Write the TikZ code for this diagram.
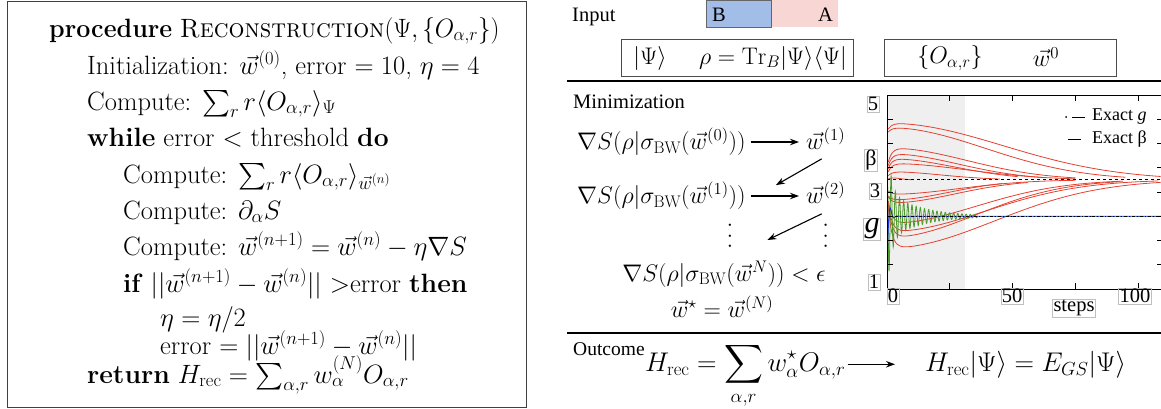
\RequirePackage{fix-cm}
\documentclass[tikz,border=0pt]{standalone}
\usepackage{amsmath,amssymb}
\usepackage{fontspec}
\newfontfamily\tms{Liberation Serif}
\usetikzlibrary{arrows.meta, positioning}

\definecolor{partB}{HTML}{A3BDE9}
\definecolor{partA}{HTML}{F8D6D4}
\definecolor{phase}{HTML}{EFEFEF}
\definecolor{trajred}{HTML}{E5402F}
\definecolor{trajgreen}{HTML}{4C9A2A}
\definecolor{trajblue}{HTML}{1B35D8}

\begin{document}
\begin{tikzpicture}[
  x=1pt, y=1pt,
  alg_line/.style={anchor=base west, inner sep=0pt, font=\fontsize{26.5}{31}\selectfont},
  eq/.style={inner sep=0pt, font=\fontsize{24}{28}\selectfont},
  big_eq/.style={inner sep=0pt, font=\fontsize{27}{32}\selectfont},
  tag/.style={anchor=base west, inner sep=0pt, font=\tms\fontsize{20.5}{24}\selectfont},
  in_box/.style={rectangle, draw=black!70, line width=0.8pt, anchor=north west, minimum width=232pt, minimum height=37pt, inner sep=0pt},
  tick_lbl/.style={draw=black!25, line width=0.5pt, inner sep=1pt, font=\tms\fontsize{20.5}{20}\selectfont},
  legend_lbl/.style={anchor=west, inner sep=0pt, font=\tms\fontsize{18}{20}\selectfont},
  traj/.style={trajred, line width=0.8pt},
  arrow/.style={-{Stealth[length=9pt, width=6.5pt]}, line width=1.1pt},
  rule/.style={line width=1.6pt}
]
\useasboundingbox (0,0) rectangle (1161,-408);

% Algorithm
\draw[line width=0.8pt, black!75] (7,-1) rectangle (526,-407);
\node[alg_line] (proc) at (49,-37) {\scalebox{0.945}[1]{\textbf{procedure} \textsc{Reconstruction}$(\Psi,\{O_{\alpha,r}\})$}};
\node[alg_line] (init) at (87,-74) {Initialization: $\vec{w}^{(0)}$, error $=10$, $\eta=4$};
\node[alg_line] (cexact) at (87,-110) {Compute: $\sum_r r\langle O_{\alpha,r}\rangle_{\Psi}$};
\node[alg_line] (loop) at (87,-146) {\textbf{while} error $<$ threshold \textbf{do}};
\node[alg_line] (cbw) at (123,-183) {Compute: $\sum_r r\langle O_{\alpha,r}\rangle_{\vec{w}^{(n)}}$};
\node[alg_line] (cgrad) at (123,-219) {Compute: $\partial_\alpha S$};
\node[alg_line] (cstep) at (123,-255) {Compute: $\vec{w}^{(n+1)}=\vec{w}^{(n)}-\eta\nabla S$};
\node[alg_line] (test) at (123,-292) {\textbf{if} $||\vec{w}^{(n+1)}-\vec{w}^{(n)}||$ $>$error \textbf{then}};
\node[alg_line] (half) at (160,-326) {$\eta=\eta/2$};
\node[alg_line] (err) at (160,-354) {error $=||\vec{w}^{(n+1)}-\vec{w}^{(n)}||$};
\node[alg_line] (ret) at (87,-383) {\textbf{return} $H_{\mathrm{rec}}=\sum_{\alpha,r}w_\alpha^{(N)}O_{\alpha,r}$};

% Input
\node[tag] (inlbl) at (572,-21) {Input};
\node[rectangle, fill=partA, anchor=north west, minimum width=66pt, minimum height=27pt, inner sep=0pt] (subA) at (772,0) {};
\node[rectangle, draw=black!60, fill=partB, line width=0.6pt, anchor=north east, minimum width=65pt, minimum height=27pt, inner sep=0pt] (subB) at (subA.north west) {};
\node[tag, anchor=base west] (lblB) at (712,-21) {B};
\node[tag, anchor=base east] (lblA) at (833,-21) {A};
\node[in_box] (stbox) at (621,-39) {};
\node[eq] (ket) at (650,-58) {$|\Psi\rangle$};
\node[eq] (rdm) at (773,-58) {$\rho=\mathrm{Tr}_B|\Psi\rangle\langle\Psi|$};
\node[in_box] (opbox) at (884,-39) {};
\node[eq] (ops) at (950,-58) {$\{O_{\alpha,r}\}$};
\node[eq] (wzero) at (1046,-57) {$\vec{w}^{0}$};
\draw[rule] (567,-81) -- (1161,-81);

% Minimization
\node[tag] (minlbl) at (573,-108) {Minimization};
\node[eq, anchor=west] (grad0) at (577,-142) {$\nabla S(\rho|\sigma_{\mathrm{BW}}(\vec{w}^{(0)}))$};
\node[eq, anchor=west] (w1) at (806,-139) {$\vec{w}^{(1)}$};
\node[eq, anchor=west] (grad1) at (577,-196) {$\nabla S(\rho|\sigma_{\mathrm{BW}}(\vec{w}^{(1)}))$};
\node[eq, anchor=west] (w2) at (806,-193) {$\vec{w}^{(2)}$};
\node[eq] (vdl) at (730,-236) {\rotatebox{90}{$\ldots$}};
\node[eq] (vdr) at (vdl -| w2) {\rotatebox{90}{$\ldots$}};
\node[eq] (gradN) at (724,-274) {$\nabla S(\rho|\sigma_{\mathrm{BW}}(\vec{w}^{N}))<\epsilon$};
\node[eq] (wstar) at (722,-307) {$\vec{w}^{\star}=\vec{w}^{(N)}$};
\draw[arrow, shorten <=5pt, shorten >=7pt] (grad0.east) -- (grad0.east -| w1.west);
\draw[arrow, shorten <=5pt, shorten >=7pt] (grad1.east) -- (grad1.east -| w2.west);
\draw[arrow] ([xshift=-4pt, yshift=-9pt]w1.south) -- ([xshift=30pt, yshift=-3pt]grad1.north east);
\draw[arrow] ([xshift=-4pt, yshift=-10pt]w2.south) -- ([xshift=36pt, yshift=-18pt]vdl.north east);
\draw[rule] (567,-333) -- (1161,-333);

% Outcome
\node[tag, font=\tms\fontsize{19.5}{24}\selectfont] (outlbl) at (573,-355) {Outcome};
\node[big_eq, anchor=base west] (hrec) at (645,-371) {$\displaystyle H_{\mathrm{rec}}=\sum_{\alpha,r}w^{\star}_{\alpha}O_{\alpha,r}$};
\node[big_eq, anchor=base west] (hgs) at (925,-371) {$H_{\mathrm{rec}}|\Psi\rangle=E_{GS}|\Psi\rangle$};
\draw[arrow, shorten <=2pt, shorten >=30pt] (hrec.east |- hgs.west) -- (hgs.west);

% Convergence plot
\begin{scope}[shift={(887,-289)}, x=2.51pt, y=48.5pt]
  \fill[phase] (0,0) rectangle (31,4);
  \foreach \A/\s/\vz/\tend in {1.17/65/4.25/109, 1.08/55/4.2/95, 0.66/45/3.5/75, 0.54/40/3.45/62,
      0.44/38/3.4/52, 0.34/45/3.35/75, 0.17/30/3.3/45, 0.06/6/3.25/10,
      -0.3/40/3.05/75, -0.42/35/2.95/46, -0.48/38/2.95/56, -0.9/50/3.0/94,
      -1.07/55/3.0/108, -1.19/50/3.0/93, -1.41/60/3.0/109}
    \draw[traj] plot[domain=0.5:\tend, samples=90, smooth]
      (\x, {2.25 + \A*exp(max(-(\x/\s)^2,-8)) + (\vz-3.25-\A)*exp(max(-\x/1.5,-8))});
  \draw[trajgreen, line width=0.8pt] plot[domain=0.3:36, samples=430]
      (\x, {1.5 + (1.15*exp(-\x/1.5) + 0.5*exp(-\x/13))*cos(\x*216.9)});
  \draw[trajgreen, line width=0.8pt, densely dotted] (36,1.5) -- (109.2,1.5);
  \draw[trajblue, line width=0.9pt] plot[domain=0.2:12, samples=80]
      (\x, {1.5 - 0.95*exp(-\x/0.8)*cos(\x*120)}) -- (109.2,1.5);
  % exact couplings
  \draw[black, line width=0.9pt, dashed] (0,2.25) -- (109.2,2.25);
  \draw[black, line width=0.9pt, dash dot] (0,1.5) -- (109.2,1.5);
  % frame and ticks
  \draw[line width=0.8pt] (109.2,4) -- (0,4) -- (0,0) -- (109.2,0);
  \foreach \v in {0.5,1,...,3.5} {
    \draw[line width=0.6pt] (0,\v) -- ++(2.4,0);
    \draw[line width=0.6pt] (109.2,\v) -- ++(-1.6,0);
  }
  \foreach \t in {25,50,75,100} {
    \draw[line width=0.6pt] (\t,0) -- ++(0,0.124);
    \draw[line width=0.6pt] (\t,4) -- ++(0,-0.124);
  }
\end{scope}

% Axis labels
\node[tick_lbl] (y5) at (873,-104) {5};
\node[tick_lbl, font=\tms\fontsize{22}{22}\selectfont] (ybeta) at (871,-160) {β};
\node[tick_lbl] (y3) at (875,-191) {3};
\node[tick_lbl, font=\tms\fontsize{30}{30}\selectfont] (yg) at (872,-229) {\textit{g}};
\node[tick_lbl] (y1) at (874,-282) {1};
\node[tick_lbl] (x0) at (893,-296) {0};
\node[tick_lbl] (x50) at (1012,-296) {50};
\node[tick_lbl] (x100) at (1135,-296) {100};
\node[tick_lbl] (xsteps) at (1074,-308) {steps};

% Legend
\fill (1066,-117) circle (1pt);
\draw[line width=0.9pt] (1072,-117) -- (1085,-117);
\draw[line width=0.9pt] (1068,-139) -- (1081,-139);
\node[legend_lbl] (legg) at (1092,-117) {Exact \textit{g}};
\node[legend_lbl] (legb) at (1092,-139) {Exact β};

\end{tikzpicture}
\end{document}
